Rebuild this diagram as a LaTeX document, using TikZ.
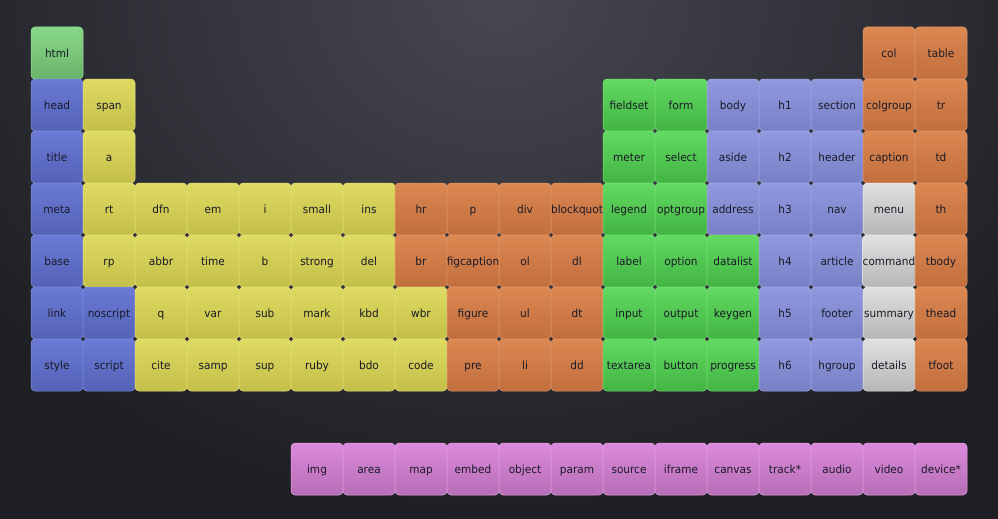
\documentclass[tikz,border=0pt]{standalone}
\usepackage{fontspec}
\setmainfont{DejaVu Sans}[FakeStretch=0.94]
\definecolor{bgin}{HTML}{474751}
\definecolor{bgout}{HTML}{1E1F24}
\definecolor{txt}{HTML}{1A1A28}
\definecolor{gAt}{HTML}{88D888}\definecolor{gAb}{HTML}{6BB36B}\definecolor{gAd}{HTML}{9BE09B}
\definecolor{blt}{HTML}{6A7AD6}\definecolor{blb}{HTML}{5462B6}\definecolor{bld}{HTML}{8090E0}
\definecolor{yet}{HTML}{DEDA62}\definecolor{yeb}{HTML}{C4BF48}\definecolor{yed}{HTML}{E8E47A}
\definecolor{ort}{HTML}{DB8852}\definecolor{orb}{HTML}{C26E3E}\definecolor{ord}{HTML}{E89A68}
\definecolor{gBt}{HTML}{62DA62}\definecolor{gBb}{HTML}{42B442}\definecolor{gBd}{HTML}{7CE47C}
\definecolor{lat}{HTML}{9099DE}\definecolor{lab}{HTML}{7981C6}\definecolor{lad}{HTML}{A4ACE6}
\definecolor{grt}{HTML}{E0E0E0}\definecolor{grb}{HTML}{B6B6B6}\definecolor{grd}{HTML}{EEEEEE}
\definecolor{pit}{HTML}{DC8ADC}\definecolor{pib}{HTML}{B66EB6}\definecolor{pid}{HTML}{E8A2E8}
\newcommand\cell[4]{\node[#3] (n#1x#2) at ({31+52*#1+26},{27+52*#2+26}) {#4};}
\begin{document}
\begin{tikzpicture}[x=1pt,y=-1pt,
  cellbase/.style={rectangle, rounded corners=4pt, minimum width=52pt, minimum height=52pt,
    inner sep=0pt, text height=10pt, text depth=1pt, text=txt,
    font=\fontsize{11.2}{13}\selectfont, line width=0.5pt},
  cgreenA/.style={cellbase, top color=gAt, bottom color=gAb, draw=gAd},
  cblue/.style={cellbase, top color=blt, bottom color=blb, draw=bld},
  cyellow/.style={cellbase, top color=yet, bottom color=yeb, draw=yed},
  corange/.style={cellbase, top color=ort, bottom color=orb, draw=ord},
  cgreenB/.style={cellbase, top color=gBt, bottom color=gBb, draw=gBd},
  clav/.style={cellbase, top color=lat, bottom color=lab, draw=lad},
  cgray/.style={cellbase, top color=grt, bottom color=grb, draw=grd},
  cpink/.style={cellbase, top color=pit, bottom color=pib, draw=pid}]
\useasboundingbox (0,0) rectangle (998,519);
\fill[bgout] (0,0) rectangle (998,519);
\begin{scope}
\clip (0,0) rectangle (998,519);
\shade[inner color=bgin, outer color=bgout] (-150,-520) rectangle (1150,520);
\end{scope}
% row 0
\cell{0}{0}{cgreenA}{html}
\cell{16}{0}{corange}{col}
\cell{17}{0}{corange}{table}
% row 1
\cell{0}{1}{cblue}{head}
\cell{1}{1}{cyellow}{span}
\cell{11}{1}{cgreenB}{fieldset}
\cell{12}{1}{cgreenB}{form}
\cell{13}{1}{clav}{body}
\cell{14}{1}{clav}{h1}
\cell{15}{1}{clav}{section}
\cell{16}{1}{corange}{colgroup}
\cell{17}{1}{corange}{tr}
% row 2
\cell{0}{2}{cblue}{title}
\cell{1}{2}{cyellow}{a}
\cell{11}{2}{cgreenB}{meter}
\cell{12}{2}{cgreenB}{select}
\cell{13}{2}{clav}{aside}
\cell{14}{2}{clav}{h2}
\cell{15}{2}{clav}{header}
\cell{16}{2}{corange}{caption}
\cell{17}{2}{corange}{td}
% row 3
\cell{0}{3}{cblue}{meta}
\cell{1}{3}{cyellow}{rt}
\cell{2}{3}{cyellow}{dfn}
\cell{3}{3}{cyellow}{em}
\cell{4}{3}{cyellow}{i}
\cell{5}{3}{cyellow}{small}
\cell{6}{3}{cyellow}{ins}
\cell{7}{3}{corange}{hr}
\cell{8}{3}{corange}{p}
\cell{9}{3}{corange}{div}
\cell{10}{3}{corange}{blockquot}
\cell{11}{3}{cgreenB}{legend}
\cell{12}{3}{cgreenB}{optgroup}
\cell{13}{3}{clav}{address}
\cell{14}{3}{clav}{h3}
\cell{15}{3}{clav}{nav}
\cell{16}{3}{cgray}{menu}
\cell{17}{3}{corange}{th}
% row 4
\cell{0}{4}{cblue}{base}
\cell{1}{4}{cyellow}{rp}
\cell{2}{4}{cyellow}{abbr}
\cell{3}{4}{cyellow}{time}
\cell{4}{4}{cyellow}{b}
\cell{5}{4}{cyellow}{strong}
\cell{6}{4}{cyellow}{del}
\cell{7}{4}{corange}{br}
\cell{8}{4}{corange}{figcaption}
\cell{9}{4}{corange}{ol}
\cell{10}{4}{corange}{dl}
\cell{11}{4}{cgreenB}{label}
\cell{12}{4}{cgreenB}{option}
\cell{13}{4}{cgreenB}{datalist}
\cell{14}{4}{clav}{h4}
\cell{15}{4}{clav}{article}
\cell{16}{4}{cgray}{command}
\cell{17}{4}{corange}{tbody}
% row 5
\cell{0}{5}{cblue}{link}
\cell{1}{5}{cblue}{noscript}
\cell{2}{5}{cyellow}{q}
\cell{3}{5}{cyellow}{var}
\cell{4}{5}{cyellow}{sub}
\cell{5}{5}{cyellow}{mark}
\cell{6}{5}{cyellow}{kbd}
\cell{7}{5}{cyellow}{wbr}
\cell{8}{5}{corange}{figure}
\cell{9}{5}{corange}{ul}
\cell{10}{5}{corange}{dt}
\cell{11}{5}{cgreenB}{input}
\cell{12}{5}{cgreenB}{output}
\cell{13}{5}{cgreenB}{keygen}
\cell{14}{5}{clav}{h5}
\cell{15}{5}{clav}{footer}
\cell{16}{5}{cgray}{summary}
\cell{17}{5}{corange}{thead}
% row 6
\cell{0}{6}{cblue}{style}
\cell{1}{6}{cblue}{script}
\cell{2}{6}{cyellow}{cite}
\cell{3}{6}{cyellow}{samp}
\cell{4}{6}{cyellow}{sup}
\cell{5}{6}{cyellow}{ruby}
\cell{6}{6}{cyellow}{bdo}
\cell{7}{6}{cyellow}{code}
\cell{8}{6}{corange}{pre}
\cell{9}{6}{corange}{li}
\cell{10}{6}{corange}{dd}
\cell{11}{6}{cgreenB}{textarea}
\cell{12}{6}{cgreenB}{button}
\cell{13}{6}{cgreenB}{progress}
\cell{14}{6}{clav}{h6}
\cell{15}{6}{clav}{hgroup}
\cell{16}{6}{cgray}{details}
\cell{17}{6}{corange}{tfoot}
% row 8
\cell{5}{8}{cpink}{img}
\cell{6}{8}{cpink}{area}
\cell{7}{8}{cpink}{map}
\cell{8}{8}{cpink}{embed}
\cell{9}{8}{cpink}{object}
\cell{10}{8}{cpink}{param}
\cell{11}{8}{cpink}{source}
\cell{12}{8}{cpink}{iframe}
\cell{13}{8}{cpink}{canvas}
\cell{14}{8}{cpink}{track*}
\cell{15}{8}{cpink}{audio}
\cell{16}{8}{cpink}{video}
\cell{17}{8}{cpink}{device*}
\end{tikzpicture}
\end{document}
